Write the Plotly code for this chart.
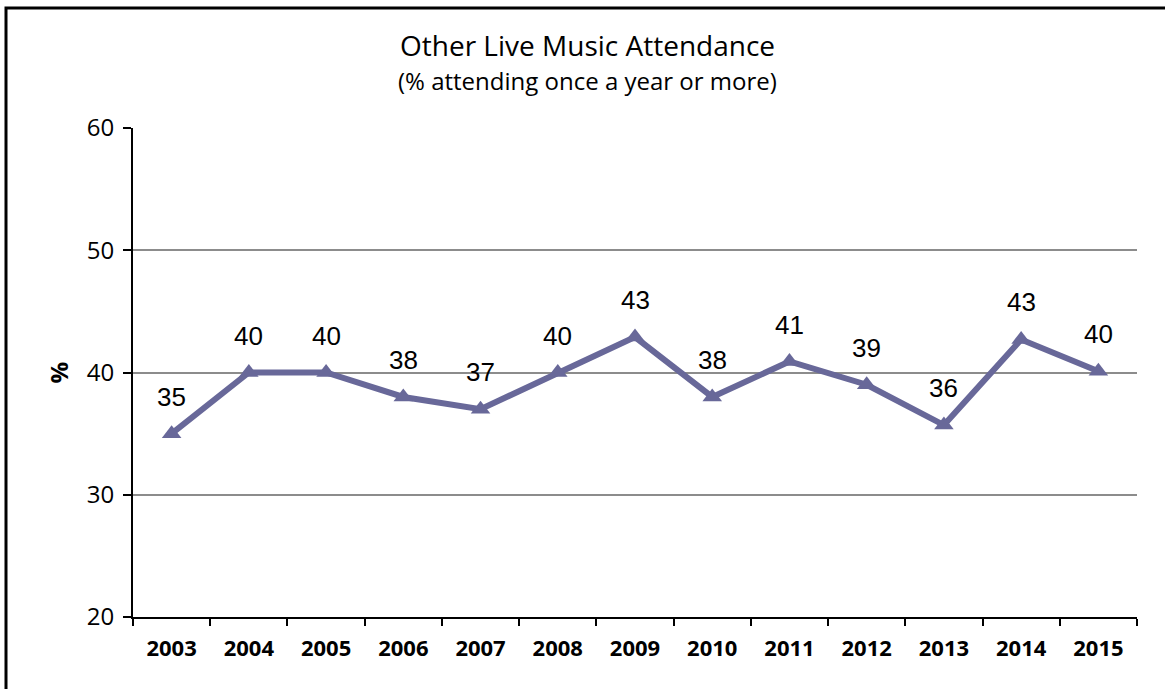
import plotly.graph_objects as go

# Survey results: share of adults attending other live music events
years = ["2003", "2004", "2005", "2006", "2007", "2008", "2009",
         "2010", "2011", "2012", "2013", "2014", "2015"]
attendance = [35, 40, 40, 38, 37, 40, 42.9, 38, 40.9, 39, 35.7, 42.7, 40.1]
y_ticks = [20, 30, 40, 50, 60]

LINE = "#686899"
W, H = 1165, 689
L, R, T, B = 133, 28, 128, 72
pw, ph = W - L - R, H - T - B

fig = go.Figure()
fig.add_trace(go.Scatter(
    x=years, y=attendance,
    mode="lines+markers",
    line=dict(color=LINE, width=6),
    marker=dict(symbol="triangle-up", size=17, color=LINE),
    hoverinfo="skip",
    showlegend=False,
))

# value labels above each point (category index as x position)
for i, v in enumerate(attendance):
    fig.add_annotation(
        x=i, y=v, text=f"{v:.0f}", showarrow=False,
        yshift=37, xanchor="center", yanchor="middle",
        font=dict(family="Liberation Sans", size=26, color="#000000"),
    )

fig.add_annotation(
    xref="paper", yref="paper", x=(587 - L) / pw, y=1 + (T - 45) / ph,
    text="Other Live Music Attendance", showarrow=False,
    xanchor="center", yanchor="middle",
    font=dict(family="Open Sans", size=28, color="#000000"),
)
fig.add_annotation(
    xref="paper", yref="paper", x=(587 - L) / pw, y=1 + (T - 81) / ph,
    text="(% attending once a year or more)", showarrow=False,
    xanchor="center", yanchor="middle",
    font=dict(family="Open Sans", size=24, color="#000000"),
)
fig.add_annotation(
    xref="paper", yref="paper", x=(58 - L) / pw, y=0.5,
    text="<b>%</b>", showarrow=False, textangle=-90,
    xanchor="center", yanchor="middle",
    font=dict(family="Open Sans", size=24, color="#000000"),
)

# outer frame
fig.add_shape(
    type="rect", xref="paper", yref="paper",
    x0=(6 - L) / pw, x1=(W + 10 - L) / pw,
    y0=-(B + 10) / ph, y1=1 + (T - 8) / ph,
    line=dict(color="#000000", width=3), fillcolor="rgba(0,0,0,0)",
    layer="below",
)

fig.update_layout(
    width=W, height=H,
    margin=dict(l=L, r=R, t=T, b=B),
    paper_bgcolor="white", plot_bgcolor="white",
    xaxis=dict(
        type="category", tickson="boundaries",
        showline=True, linecolor="#000000", linewidth=2,
        ticks="outside", ticklen=7, tickwidth=2, tickcolor="#000000",
        showgrid=False, zeroline=False,
        ticklabelstandoff=11,
        tickfont=dict(family="Open Sans", size=22, color="#000000", weight="bold"),
        range=[-0.5, len(years) - 0.5],
    ),
    yaxis=dict(
        range=[20, 60], tickvals=y_ticks,
        showline=True, linecolor="#000000", linewidth=2,
        ticks="outside", ticklen=8, tickwidth=2, tickcolor="#000000",
        showgrid=True, gridcolor="#8c8c8c", gridwidth=2,
        zeroline=False,
        ticklabelstandoff=4,
        tickfont=dict(family="Open Sans", size=24, color="#000000"),
    ),
)

fig.write_html("out.html")
